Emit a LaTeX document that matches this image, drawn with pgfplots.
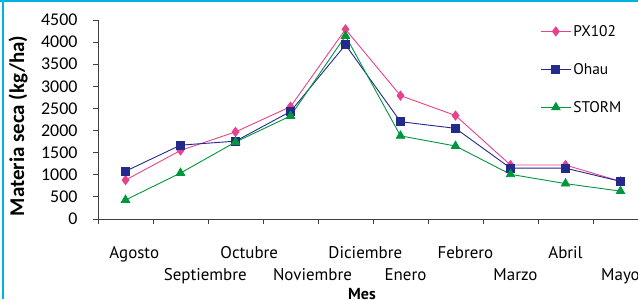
\documentclass[border=0pt]{standalone}
\usepackage{fontspec}
\setmainfont{PT Sans}
\newfontfamily\calib{Carlito}
\usepackage{pgfplots}
\pgfplotsset{compat=1.18}
\definecolor{cpink}{RGB}{233,66,140}
\definecolor{cnavy}{RGB}{36,42,140}
\definecolor{cgreen}{RGB}{0,150,62}
\definecolor{ccyan}{RGB}{0,178,222}
\begin{document}
\begin{tikzpicture}[x=1bp,y=1bp]
\clip (0,0) rectangle (638,299);
\fill[white] (0,0) rectangle (638,299);
\begin{axis}[
  at={(98bp,80bp)}, anchor=south west,
  scale only axis, width=550bp, height=199bp,
  xmin=-0.5, xmax=9.5, ymin=0, ymax=4500,
  axis lines*=left, axis line style={black!75, line width=0.8pt},
  ytick={0,500,...,4500},
  yticklabel style={font=\calib\fontsize{18}{18}\selectfont, xshift=-12bp},
  /pgf/number format/assume math mode=true,
  /pgf/number format/1000 sep={},
  xtick={0.16,1.45,2.25,3.4,4.36,5.09,6.18,7.09,8.0,9.0},
  xticklabels={Agosto,{\strut\\Septiembre},Octubre,{\strut\\Noviembre},Diciembre,{\strut\\Enero},Febrero,{\strut\\Marzo},Abril,{\strut\\Mayo}},
  xticklabel style={align=center, font=\fontsize{17}{20}\selectfont, yshift=-19bp},
  major x tick style={draw=none},
  minor xtick={-0.5,0.5,...,9.5},
  tick align=outside,
  tick style={black!75, line width=0.8pt},
  major tick length=5bp, minor tick length=5bp,
  ylabel={Materia seca (kg/ha)},
  ylabel style={font=\calib\bfseries\fontsize{21}{21}\selectfont, at={(axis description cs:-0.145,0.467)}, anchor=center},
  xlabel={Mes},
  xlabel style={font=\bfseries\fontsize{16}{18}\selectfont, at={(axis description cs:0.48,-0.378)}, anchor=center},
  legend style={at={(axis description cs:0.804,0.985)}, anchor=north west, draw=none, fill=none,
    font=\fontsize{15.5}{18}\selectfont, row sep=21.5bp, inner sep=0pt, nodes={inner sep=2pt}},
  legend cell align=left,
  legend image code/.code={\draw[mark repeat=2,mark phase=2,#1] plot coordinates {(0bp,0bp)(15bp,0bp)(30bp,0bp)};},
  every axis plot/.append style={line width=0.9pt},
]
\addplot[cpink, mark=diamond*, mark size=4.5bp] coordinates {
(0,880) (1,1550) (2,1970) (3,2540) (4,4290) (5,2790) (6,2340) (7,1220) (8,1220) (9,850)};
\addlegendentry{PX102}
\addplot[cnavy, mark=square*, mark size=4bp] coordinates {
(0,1080) (1,1670) (2,1760) (3,2430) (4,3940) (5,2200) (6,2050) (7,1150) (8,1150) (9,850)};
\addlegendentry{Ohau}
\addplot[cgreen, mark=triangle*, mark size=4.8bp] coordinates {
(0,430) (1,1040) (2,1740) (3,2330) (4,4140) (5,1880) (6,1650) (7,1010) (8,800) (9,630)};
\addlegendentry{STORM}
\end{axis}
\draw[ccyan, line width=2pt] (0,298) -- (638,298);
\draw[ccyan, line width=2pt] (3,0) -- (3,299);
\end{tikzpicture}
\end{document}
